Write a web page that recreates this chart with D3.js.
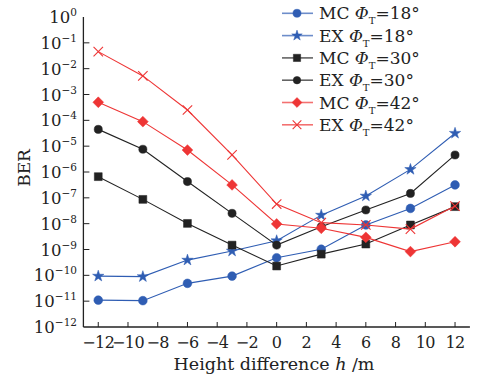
<!DOCTYPE html>
<html>
<head>
<meta charset="utf-8">
<script src="https://cdn.jsdelivr.net/npm/d3@7"></script>
<style>
  body { margin: 0; background: #fff; }
  svg text { font-family: "DejaVu Serif", "Liberation Serif", serif; fill: #222; }
</style>
</head>
<body>
<svg id="chart" width="477" height="386"></svg>
<script>
// height difference h (m)
var heights = [-12, -9, -6, -3, 0, 3, 6, 9, 12]

// log10(BER)
var mc18 = [-10.96, -10.98, -10.31, -10.03, -9.32, -8.99, -8.05, -7.41, -6.50]
var ex18 = [-10.03, -10.05, -9.41, -9.06, -8.66, -7.67, -6.93, -5.90, -4.50]
var mc30 = [-6.18, -7.06, -7.99, -8.83, -9.64, -9.18, -8.79, -8.05, -7.34]
var ex30 = [-4.35, -5.12, -6.37, -7.60, -8.83, -8.12, -7.47, -6.83, -5.34]
var mc42 = [-3.30, -4.05, -5.15, -6.50, -8.01, -8.18, -8.53, -9.08, -8.70]
var ex42 = [-1.34, -2.28, -3.60, -5.34, -7.24, -7.96, -8.05, -8.21, -7.32]

var xTicks = d3.range(-12, 13, 2)
var yExps = d3.range(0, -13, -1)

// square turned by 45 degrees, like the reference diamonds
var squareDiamond = {
  draw: function(ctx, size){
    var r = Math.sqrt(size / 2)
    ctx.moveTo(0, -r); ctx.lineTo(r, 0); ctx.lineTo(0, r); ctx.lineTo(-r, 0); ctx.closePath()
  }
}

var series = [
  {name: 'MC', angle: 18, vals: mc18, color: '#2f5db3', symbol: d3.symbolCircle, size: 60},
  {name: 'EX', angle: 18, vals: ex18, color: '#2f5db3', symbol: d3.symbolStar, size: 40},
  {name: 'MC', angle: 30, vals: mc30, color: '#222222', symbol: d3.symbolSquare, size: 62},
  {name: 'EX', angle: 30, vals: ex30, color: '#222222', symbol: d3.symbolCircle, size: 52},
  {name: 'MC', angle: 42, vals: mc42, color: '#ee3535', symbol: squareDiamond, size: 58},
  {name: 'EX', angle: 42, vals: ex42, color: '#ee3535', symbol: d3.symbolX, size: 60, open: true}
]

var svg = d3.select('#chart')

var x = d3.scaleLinear().domain([-13, 13]).range([83.4, 469.9])
var y = d3.scaleLog().domain([1e-12, 1]).range([327, 17])

var axisColor = '#222'

// axes (spines only left and bottom, ticks pointing inside)
svg.append('line')
  .attr('x1', x(-13)).attr('x2', x(13))
  .attr('y1', y(1e-12)).attr('y2', y(1e-12))
  .attr('stroke', axisColor).attr('stroke-width', 1.3)
svg.append('line')
  .attr('x1', x(-13)).attr('x2', x(-13))
  .attr('y1', y(1)).attr('y2', y(1e-12))
  .attr('stroke', axisColor).attr('stroke-width', 1.3)

svg.selectAll('line.xt').data(xTicks).join('line')
  .attr('class', 'xt')
  .attr('x1', d => x(d)).attr('x2', d => x(d))
  .attr('y1', y(1e-12)).attr('y2', y(1e-12) - 5)
  .attr('stroke', axisColor).attr('stroke-width', 1)

svg.selectAll('text.xl').data(xTicks).join('text')
  .attr('class', 'xl')
  .attr('x', d => x(d)).attr('y', 348)
  .attr('text-anchor', 'middle')
  .attr('font-size', 16)
  .attr('letter-spacing', -0.6)
  .text(d => d < 0 ? '\u2212' + (-d) : d)

svg.append('text')
  .attr('x', 274).attr('y', 370)
  .attr('text-anchor', 'middle')
  .attr('font-size', 17.5)
  .call(t => {
    t.append('tspan').text('Height difference ')
    t.append('tspan').attr('font-style', 'italic').text('h')
    t.append('tspan').text(' /m')
  })

svg.selectAll('line.yt').data(yExps.filter(e => e > -12 && e < 0)).join('line')
  .attr('class', 'yt')
  .attr('x1', x(-13)).attr('x2', x(-13) + 6)
  .attr('y1', d => y(Math.pow(10, d))).attr('y2', d => y(Math.pow(10, d)))
  .attr('stroke', axisColor).attr('stroke-width', 1)

var yl = svg.selectAll('text.yl').data(yExps).join('text')
  .attr('class', 'yl')
  .attr('x', 77).attr('y', d => y(Math.pow(10, d)) + 6)
  .attr('text-anchor', 'end')
  .attr('font-size', 16.5)
yl.append('tspan').text('10')
yl.append('tspan').attr('dy', -7).attr('font-size', 10.5)
  .text(d => d == 0 ? '0' : '\u2212' + (-d))

svg.append('text')
  .attr('transform', 'translate(30,168) rotate(-90)')
  .attr('text-anchor', 'middle')
  .attr('font-size', 17)
  .text('BER')

// series
var line = d3.line()
  .x((d, i) => x(heights[i]))
  .y(d => y(Math.pow(10, d)))

var g = svg.selectAll('g.series').data(series).join('g').attr('class', 'series')

g.append('path')
  .attr('d', d => line(d.vals))
  .attr('fill', 'none')
  .attr('stroke', d => d.color)
  .attr('stroke-width', 1.1)

g.each(function(s){
  d3.select(this).selectAll('path.mk').data(s.vals).join('path')
    .attr('class', 'mk')
    .attr('transform', (d, i) => `translate(${x(heights[i])},${y(Math.pow(10, d))})`)
    .attr('d', d3.symbol().type(s.symbol).size(s.size))
    .attr('fill', s.open ? 'none' : s.color)
    .attr('stroke', s.color)
    .attr('stroke-width', s.open ? 1.1 : 0.5)
})

// legend
var legend = svg.selectAll('g.leg').data(series).join('g')
  .attr('class', 'leg')
  .attr('transform', (d, i) => `translate(0,${13.3 + i * 22.3})`)

legend.append('line')
  .attr('x1', 282).attr('x2', 313)
  .attr('stroke', d => d.color).attr('stroke-opacity', 0.7)
  .attr('stroke-width', 1.6)
legend.append('path')
  .attr('transform', 'translate(297,0)')
  .attr('d', d => d3.symbol().type(d.symbol).size(d.size * 0.85)())
  .attr('fill', d => d.open ? 'none' : d.color)
  .attr('stroke', d => d.color)
  .attr('stroke-width', d => d.open ? 1.1 : 0.5)

var lt = legend.append('text')
  .attr('x', 319).attr('y', 6)
  .attr('font-size', 17)
lt.append('tspan').text(d => d.name + ' ')
lt.append('tspan').attr('font-style', 'italic').text('\u03A6')
lt.append('tspan').attr('dy', 5).attr('font-size', 10).text('T')
lt.append('tspan').attr('dy', -5).text(d => '=' + d.angle + '\u00B0')
</script>
</body>
</html>
